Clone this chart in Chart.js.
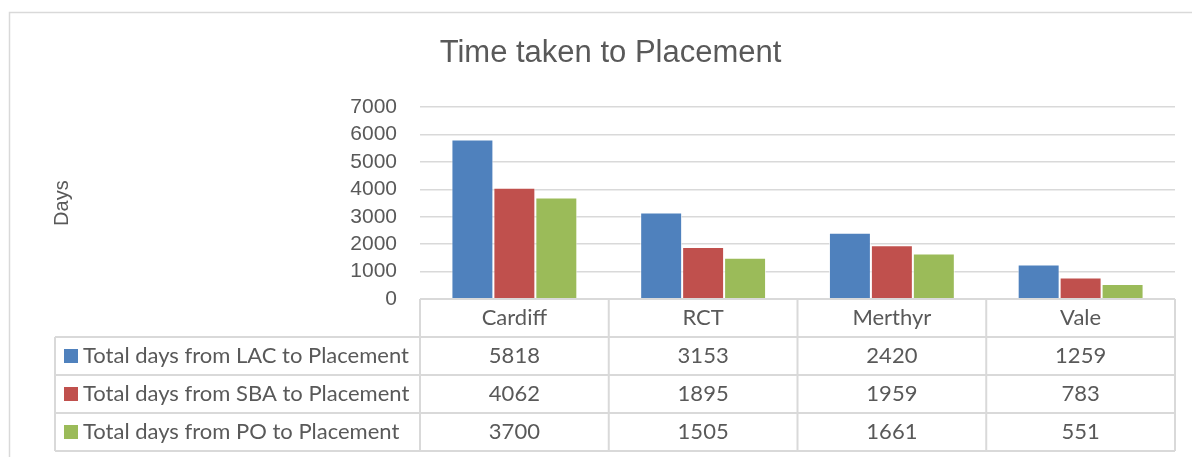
<!DOCTYPE html>
<html lang="en">
<head>
  <meta charset="UTF-8" />
  <title>Time taken to Placement</title>
  <script src="https://cdn.jsdelivr.net/npm/chart.js"></script>
  <style>
    body {
      margin: 0;
      background: white;
    }
  </style>
</head>
<body>
  <canvas id="placementChart" width="1192" height="457"></canvas>

  <script>
    const categories = ["Cardiff", "RCT", "Merthyr", "Vale"];
    const seriesNames = [
      "Total days from LAC to Placement",
      "Total days from SBA to Placement",
      "Total days from PO to Placement"
    ];
    const lacDays = [5818, 3153, 2420, 1259];
    const sbaDays = [4062, 1895, 1959, 783];
    const poDays = [3700, 1505, 1661, 551];
    const seriesColors = ["#4F81BD", "#C0504D", "#9BBB59"];
    const yTicks = [0, 1000, 2000, 3000, 4000, 5000, 6000, 7000];

    const textGrey = "#595959";
    const lineGrey = "#d9d9d9";
    const tableFont = "22px Lato, 'Noto Sans', sans-serif";

    // data table drawn under the plot, lined up with the category scale
    const dataTable = {
      id: "dataTable",
      beforeDraw(chart) {
        const ctx = chart.ctx;
        ctx.save();
        ctx.strokeStyle = lineGrey;
        ctx.lineWidth = 1.5;
        ctx.strokeRect(9.5, 12.5, 1300, 600);
        ctx.restore();
      },
      afterDraw(chart) {
        const ctx = chart.ctx;
        const area = chart.chartArea;
        const x = chart.scales.x;
        const rowH = 38;
        const colW = (area.right - area.left) / categories.length;
        const legendLeft = 55;
        const top = area.bottom;
        const bottom = top + rowH * (seriesNames.length + 1);

        ctx.save();
        ctx.strokeStyle = lineGrey;
        ctx.lineWidth = 2;
        ctx.beginPath();
        ctx.moveTo(area.left, top);
        ctx.lineTo(area.right, top);
        for (let r = 1; r <= seriesNames.length + 1; r++) {
          ctx.moveTo(legendLeft, top + rowH * r);
          ctx.lineTo(area.right, top + rowH * r);
        }
        ctx.moveTo(legendLeft, top + rowH);
        ctx.lineTo(legendLeft, bottom);
        for (let i = 0; i <= categories.length; i++) {
          const bx = area.left + colW * i;
          ctx.moveTo(bx, top);
          ctx.lineTo(bx, bottom);
        }
        ctx.stroke();

        ctx.font = tableFont;
        ctx.fillStyle = textGrey;
        ctx.textBaseline = "middle";
        ctx.textAlign = "center";
        categories.forEach((c, i) => {
          ctx.fillText(c, x.getPixelForValue(i), top + rowH / 2);
        });

        chart.data.datasets.forEach((ds, r) => {
          const cy = top + rowH * (r + 1) + rowH / 2;
          ctx.fillStyle = ds.backgroundColor;
          ctx.fillRect(legendLeft + 9, cy - 7, 14, 14);
          ctx.fillStyle = textGrey;
          ctx.textAlign = "left";
          ctx.fillText(ds.label, legendLeft + 28, cy);
          ctx.textAlign = "center";
          ds.data.forEach((v, i) => {
            ctx.fillText(String(v), x.getPixelForValue(i), cy);
          });
        });
        ctx.restore();
      }
    };

    const allSeries = [lacDays, sbaDays, poDays];

    new Chart(document.getElementById("placementChart"), {
      type: "bar",
      data: {
        labels: categories,
        datasets: allSeries.map((vals, i) => ({
          label: seriesNames[i],
          data: vals,
          backgroundColor: seriesColors[i],
          borderColor: "rgba(255,255,255,0.7)",
          borderWidth: 1,
          borderSkipped: "bottom",
          categoryPercentage: 0.667,
          barPercentage: 1
        }))
      },
      options: {
        responsive: false,
        animation: false,
        layout: {
          padding: { left: 46, right: 17, top: 0, bottom: 158 }
        },
        plugins: {
          legend: { display: false },
          tooltip: { enabled: false },
          title: {
            display: true,
            text: "Time taken to Placement",
            color: textGrey,
            font: { family: "'Liberation Sans', Arial, sans-serif", size: 31, weight: "normal" },
            padding: { top: 35, bottom: 35 }
          }
        },
        scales: {
          x: {
            display: false
          },
          y: {
            min: 0,
            max: 7000,
            afterBuildTicks(scale) {
              scale.ticks = yTicks.map(v => ({ value: v }));
            },
            afterFit(scale) {
              scale.width = 374;
            },
            ticks: {
              color: textGrey,
              padding: 23,
              autoSkip: false,
              callback: v => String(v),
              font: { family: "'Liberation Sans', Arial, sans-serif", size: 21 }
            },
            grid: {
              color: lineGrey,
              lineWidth: 1.5,
              drawTicks: false
            },
            border: { display: false },
            title: {
              display: true,
              text: "Days",
              color: textGrey,
              font: { family: "'Liberation Sans', Arial, sans-serif", size: 20 }
            }
          }
        }
      },
      plugins: [dataTable]
    });
  </script>
</body>
</html>
